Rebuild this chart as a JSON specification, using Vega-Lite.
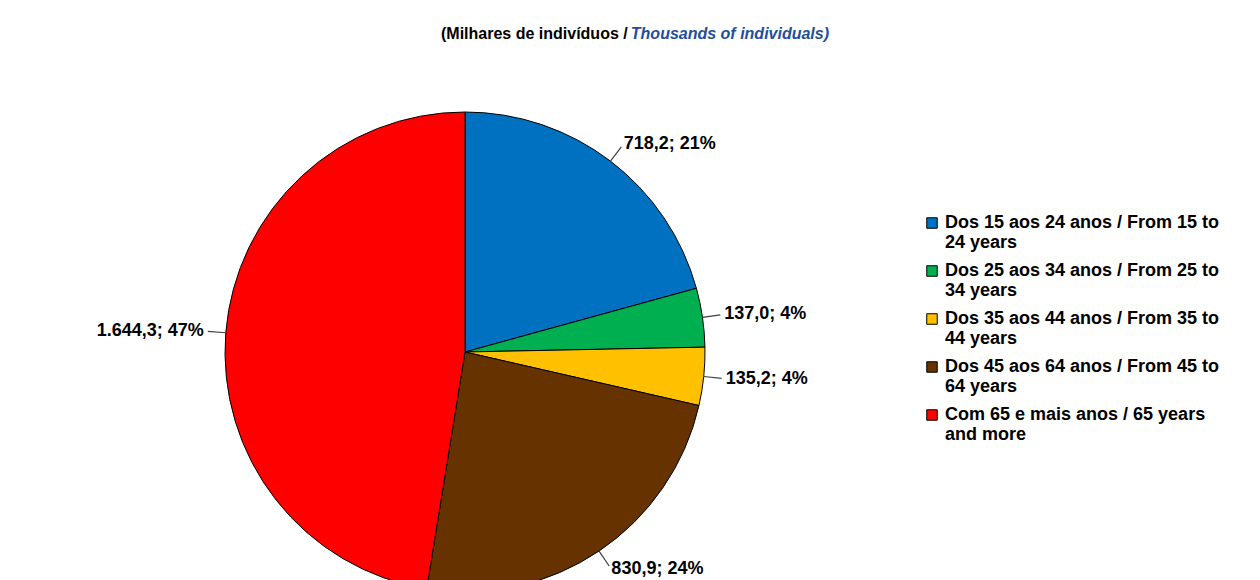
{
  "$schema": "https://vega.github.io/schema/vega-lite/v6.json",
  "width": 920,
  "height": 600,
  "padding": {"left": 5, "top": 26, "right": 0, "bottom": 0},
  "background": "white",
  "view": {"stroke": null},
  "title": {
    "text": "(Milhares de indivíduos / ",
    "subtitle": "\u2800\u00a0\u00a0\u00a0\u00a0\u00a0\u00a0\u00a0\u00a0\u00a0\u00a0\u00a0\u00a0\u00a0\u00a0\u00a0\u00a0\u00a0\u00a0\u00a0\u00a0\u00a0\u00a0\u00a0\u00a0\u00a0\u00a0\u00a0\u00a0\u00a0\u00a0\u00a0\u00a0\u00a0\u00a0\u00a0\u00a0\u00a0\u00a0\u00a0\u00a0Thousands of individuals)",
    "anchor": "start",
    "align": "left",
    "dx": 436,
    "offset": 10,
    "font": "Liberation Sans",
    "fontSize": 16,
    "fontWeight": "bold",
    "color": "black",
    "subtitleFont": "Liberation Sans",
    "subtitleFontSize": 16,
    "subtitleFontWeight": "bold",
    "subtitleFontStyle": "italic",
    "subtitleColor": "#1F4E9A",
    "subtitlePadding": -16
  },
  "data": {
    "values": [
      {"ordem": 1, "grupo": "Dos 15 aos 24 anos / From 15 to 24 years", "valor": 718.2, "rotulo": "718,2; 21%"},
      {"ordem": 2, "grupo": "Dos 25 aos 34 anos / From 25 to 34 years", "valor": 137.0, "rotulo": "137,0; 4%"},
      {"ordem": 3, "grupo": "Dos 35 aos 44 anos / From 35 to 44 years", "valor": 135.2, "rotulo": "135,2; 4%"},
      {"ordem": 4, "grupo": "Dos 45 aos 64 anos / From 45 to 64 years", "valor": 830.9, "rotulo": "830,9; 24%"},
      {"ordem": 5, "grupo": "Com 65 e mais anos / 65 years and more", "valor": 1644.3, "rotulo": "1.644,3; 47%"}
    ]
  },
  "encoding": {
    "theta": {"field": "valor", "type": "quantitative", "stack": true},
    "order": {"field": "ordem", "type": "quantitative"},
    "color": {
      "field": "grupo",
      "type": "nominal",
      "sort": null,
      "scale": {
        "domain": [
          "Dos 15 aos 24 anos / From 15 to 24 years",
          "Dos 25 aos 34 anos / From 25 to 34 years",
          "Dos 35 aos 44 anos / From 35 to 44 years",
          "Dos 45 aos 64 anos / From 45 to 64 years",
          "Com 65 e mais anos / 65 years and more"
        ],
        "range": ["#0070C0", "#00B050", "#FFC000", "#663300", "#FF0000"]
      },
      "legend": {
        "orient": "none",
        "legendX": 918,
        "legendY": 162,
        "title": null,
        "symbolType": "square",
        "symbolSize": 110,
        "symbolStrokeColor": "black",
        "symbolStrokeWidth": 1,
        "labelFont": "Liberation Sans",
        "labelFontSize": 18,
        "labelFontWeight": "bold",
        "labelColor": "black",
        "labelLimit": 500,
        "rowPadding": 10,
        "labelExpr": "indexof(datum.label, 'and more') > 0 ? ['Com 65 e mais anos / 65 years', 'and more'] : [slice(datum.label, 0, -9), slice(datum.label, -8)]"
      }
    }
  },
  "layer": [
    {
      "mark": {"type": "arc", "outerRadius": 240, "stroke": "black", "strokeWidth": 1}
    },
    {
      "mark": {"type": "arc", "innerRadius": 240, "outerRadius": 258, "padAngle": 3, "stroke": "#404040", "strokeWidth": 1.2}
    },
    {
      "mark": {"type": "text", "radius": 262, "align": "left", "baseline": "middle", "font": "Liberation Sans", "fontSize": 18, "fontWeight": "bold"},
      "encoding": {
        "color": {"value": "black"},
        "text": {"condition": {"test": "datum.ordem == 5", "value": ""}, "field": "rotulo"}
      }
    },
    {
      "mark": {"type": "text", "radius": 262, "align": "right", "baseline": "middle", "font": "Liberation Sans", "fontSize": 18, "fontWeight": "bold"},
      "encoding": {
        "color": {"value": "black"},
        "text": {"condition": {"test": "datum.ordem != 5", "value": ""}, "field": "rotulo"}
      }
    }
  ]
}
